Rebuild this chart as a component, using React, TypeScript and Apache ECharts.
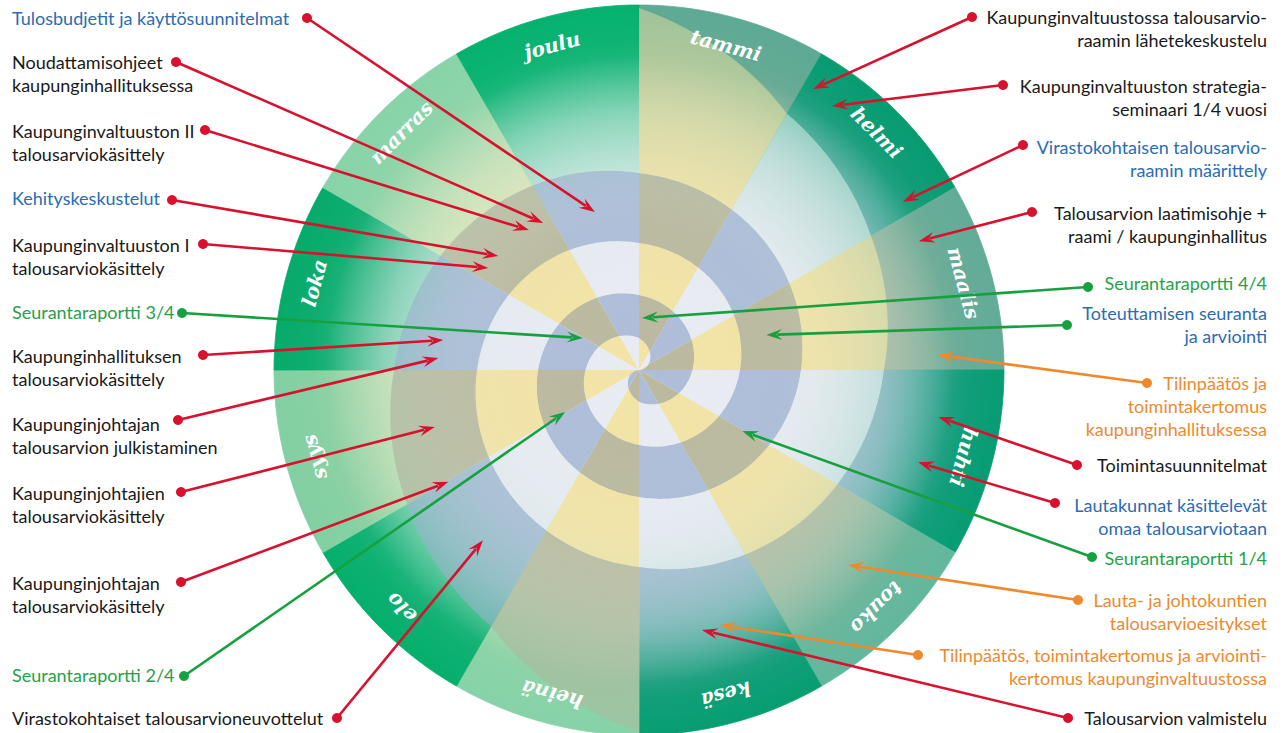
import React, { useEffect, useRef } from "react";
import * as echarts from "echarts";

// ---------- data ----------
const months = ["tammi", "helmi", "maalis", "huhti", "touko", "kesä", "heinä", "elo", "syys", "loka", "marras", "joulu"];
const monthColors = ["#5aa994", "#009a6c", "#5fab98", "#009b6f", "#5fb79d", "#009c6d", "#84d2a9", "#00ad69", "#80cfa3", "#00a967", "#86d3aa", "#00b06b"];

// spiral band boundary: radius against accumulated counter-clockwise turn (deg)
const spiralTurn = [-90, 0, 180, 360, 540, 630, 660, 690, 720];
const spiralRadius = [0, 32, 75, 127, 197, 245, 268, 296, 362];
const spiralEnd = 720;

// left annotations
const leftTexts = [
  ["Tulosbudjetit ja käyttösuunnitelmat"],
  ["Noudattamisohjeet", "kaupunginhallituksessa"],
  ["Kaupunginvaltuuston II", "talousarviokäsittely"],
  ["Kehityskeskustelut"],
  ["Kaupunginvaltuuston I", "talousarviokäsittely"],
  ["Seurantaraportti 3/4"],
  ["Kaupunginhallituksen", "talousarviokäsittely"],
  ["Kaupunginjohtajan", "talousarvion julkistaminen"],
  ["Kaupunginjohtajien", "talousarviokäsittely"],
  ["Kaupunginjohtajan", "talousarviokäsittely"],
  ["Seurantaraportti 2/4"],
  ["Virastokohtaiset talousarvioneuvottelut"],
];
const leftTextKind = ["blue", "black", "black", "blue", "black", "green", "black", "black", "black", "black", "green", "black"];
const leftArrowKind = ["red", "red", "red", "red", "red", "green", "red", "red", "red", "red", "green", "red"];
const leftTargetAngle = [344.4, 326.9, 321.8, 309.0, 304.1, 299.7, 278.7, 273.4, 254.4, 239.6, 240.4, 222.5];
const leftTargetRadius = [164, 175.6, 178, 181, 182, 64.5, 198, 201, 212, 221, 85, 231];

// right annotations
const rightTexts = [
  ["Kaupunginvaltuustossa talousarvio-", "raamin lähetekeskustelu"],
  ["Kaupunginvaltuuston strategia-", "seminaari 1/4 vuosi"],
  ["Virastokohtaisen talousarvio-", "raamin määrittely"],
  ["Talousarvion laatimisohje +", "raami / kaupunginhallitus"],
  ["Seurantaraportti 4/4"],
  ["Toteuttamisen seuranta", "ja arviointi"],
  ["Tilinpäätös ja", "toimintakertomus", "kaupunginhallituksessa"],
  ["Toimintasuunnitelmat"],
  ["Lautakunnat käsittelevät", "omaa talousarviotaan"],
  ["Seurantaraportti 1/4"],
  ["Lauta- ja johtokuntien", "talousarvioesitykset"],
  ["Tilinpäätös, toimintakertomus ja arviointi-", "kertomus kaupunginvaltuustossa"],
  ["Talousarvion valmistelu"],
];
const rightTextKind = ["black", "black", "blue", "black", "green", "blue", "orange", "black", "blue", "green", "orange", "orange", "black"];
const rightArrowKind = ["red", "red", "red", "red", "green", "green", "orange", "red", "red", "green", "orange", "orange", "red"];
const rightTargetAngle = [31.8, 36.2, 57.5, 65.3, 3.3, 74.6, 87.1, 98.9, 108.3, 120.6, 133.0, 162.4, 166.4];
const rightTargetRadius = [330.5, 327, 313, 308, 52, 132, 299, 303, 294, 120, 286, 267.6, 267.5];

// ---------- layout & style ----------
const CX = 639;
const CY = 370;
const R = 365;
const MONTH_LABEL_R = 336;
const LINE_H = 23;
const leftTextY = [18, 62, 131, 198, 245, 312, 356, 424, 493, 583, 675, 718];
const leftDot = [[307, 18], [176, 62], [205, 130], [172, 200], [203, 244], [182, 313], [203, 355], [178, 420], [181, 492], [181, 582], [184, 676], [337, 718]];
const rightTextY = [17, 86, 147, 213, 283, 313, 383, 465, 505, 558, 600, 655, 718];
const rightDot = [[972, 17], [1003, 85], [1023, 145], [1032, 212], [1088, 287], [1067, 325], [1147, 383], [1077, 465], [1055, 503], [1092, 557], [1078, 600], [918, 655], [1068, 718]];

const textColor: Record<string, string> = { black: "#1a1a1a", blue: "#2b6cb3", green: "#27a14a", orange: "#ec8a30" };
const arrowColor: Record<string, string> = { red: "#d7112e", green: "#17a03f", orange: "#ee8a2c" };
const darkColors = ["#b8b69b", "#acbad8"]; // gray, blue
const lightColors = ["#f3e2a2", "#e9ebf3"]; // yellow, white
const FONT = "Lato, 'Liberation Sans', sans-serif";

function spiralR(psi: number): number {
  if (psi <= spiralTurn[0]) return spiralRadius[0];
  for (let i = 1; i < spiralTurn.length; i++) {
    if (psi <= spiralTurn[i] + 1e-6) {
      const t = (psi - spiralTurn[i - 1]) / (spiralTurn[i] - spiralTurn[i - 1]);
      return spiralRadius[i - 1] + t * (spiralRadius[i] - spiralRadius[i - 1]);
    }
  }
  return R;
}

function rgba(hex: string, a: number) {
  const n = parseInt(hex.slice(1), 16);
  return `rgba(${(n >> 16) & 255},${(n >> 8) & 255},${n & 255},${a})`;
}

function mix(hexA: string, hexB: string, t: number) {
  const a = parseInt(hexA.slice(1), 16);
  const b = parseInt(hexB.slice(1), 16);
  const ch = (s: number) => Math.round(((a >> s) & 255) * (1 - t) + ((b >> s) & 255) * t);
  return `rgb(${ch(16)},${ch(8)},${ch(0)})`;
}

function buildOption() {
  const monthData = months.map((_, i) => [200, 30 * i + 15, i]);
  const labelData = months.map((_, i) => [MONTH_LABEL_R, 30 * i + 15, i]);

  // [r, angle, wedge, winding, open(1 = runs out to the rim)]
  const bandData: number[][] = [];
  for (let w = 0; w < 12; w++) {
    for (let m = -4; m <= 4; m++) {
      const phiMax = 360 - 30 * w;
      if (phiMax + 180 * m > spiralEnd + 0.01) continue;
      if (spiralR(phiMax + 180 * (m + 1)) <= 0) continue;
      const open = phiMax + 180 * (m + 1) > spiralEnd + 0.01 ? 1 : 0;
      if (open && spiralR(phiMax + 180 * m) >= R - 1) continue;
      bandData.push([100, 30 * w + 15, w, m, open]);
    }
  }

  const annData: number[][] = [];
  leftTexts.forEach((_, i) => annData.push([leftTargetRadius[i], leftTargetAngle[i], 0, i]));
  rightTexts.forEach((_, i) => annData.push([rightTargetRadius[i], rightTargetAngle[i], 1, i]));

  const radiusPx = (api: any) => {
    const c = api.coord([0, 0]);
    const e = api.coord([R, 0]);
    return { c, rad: Math.hypot(e[0] - c[0], e[1] - c[1]) };
  };

  return {
    animation: false,
    polar: { center: [CX, CY], radius: [0, R] },
    angleAxis: { type: "value", min: 0, max: 360, startAngle: 90, clockwise: true, show: false },
    radiusAxis: { type: "value", min: 0, max: R, show: false },
    series: [
      {
        type: "custom",
        coordinateSystem: "polar",
        silent: true,
        z: 1,
        data: monthData,
        renderItem: (params: any, api: any) => {
          const i = api.value(2);
          const { c, rad } = radiusPx(api);
          const pts: number[][] = [c];
          for (let k = 0; k <= 24; k++) pts.push(api.coord([R, 30 * i + (30 * k) / 24]));
          const col = monthColors[i];
          const grad = new echarts.graphic.RadialGradient(c[0], c[1], rad, [
            { offset: 0, color: "#f2f6f2" },
            { offset: 0.48, color: mix("#eef5f0", col, 0.2) },
            { offset: 0.7, color: mix("#eef5f0", col, 0.6) },
            { offset: 0.86, color: col },
            { offset: 1, color: col },
          ], true);
          return { type: "polygon", shape: { points: pts }, style: { fill: grad, stroke: grad, lineWidth: 0.8 } };
        },
      },
      {
        type: "custom",
        coordinateSystem: "polar",
        silent: true,
        z: 2,
        data: bandData,
        renderItem: (params: any, api: any) => {
          const w = api.value(2);
          const m = api.value(3);
          const open = api.value(4);
          const N = 16;
          const outer: number[][] = [];
          const inner: number[][] = [];
          for (let k = 0; k <= N; k++) {
            const th = 30 * w + (30 * k) / N;
            const phi = 360 - th;
            outer.push(api.coord([spiralR(phi + 180 * (m + 1)), th]));
            inner.push(api.coord([spiralR(phi + 180 * m), th]));
          }
          const pts = outer.concat(inner.reverse());
          const dark = Math.abs(m) % 2 === 0;
          const base = dark ? darkColors[w % 2] : lightColors[w % 2];
          const { c, rad } = radiusPx(api);
          const k0 = dark ? 1 : 0.6;
          const stops = open
            ? [
                { offset: 0, color: rgba(base, 0.85 * k0) },
                { offset: 0.54, color: rgba(base, 0.78 * k0) },
                { offset: 0.68, color: rgba(base, 0.55 * k0) },
                { offset: 0.8, color: rgba(base, 0.3 * k0) },
                { offset: 0.9, color: rgba(base, 0.1 * k0) },
                { offset: 1, color: rgba(base, 0.04 * k0) },
              ]
            : [
                { offset: 0, color: rgba(base, 0.96) },
                { offset: 0.4, color: rgba(base, 0.9) },
                { offset: 0.62, color: rgba(base, 0.74) },
                { offset: 0.85, color: rgba(base, 0.55) },
                { offset: 1, color: rgba(base, 0.45) },
              ];
          const grad = new echarts.graphic.RadialGradient(c[0], c[1], rad, stops, true);
          return { type: "polygon", shape: { points: pts }, style: { fill: grad } };
        },
      },
      {
        type: "custom",
        coordinateSystem: "polar",
        silent: true,
        z: 3,
        data: labelData,
        renderItem: (params: any, api: any) => {
          const i = api.value(2);
          const th = api.value(1);
          const p = api.coord([api.value(0), th]);
          return {
            type: "text",
            x: p[0],
            y: p[1],
            rotation: (-th * Math.PI) / 180,
            style: {
              text: months[i],
              fill: "#ffffff",
              fontSize: 20,
              fontWeight: "bold",
              fontStyle: "italic",
              fontFamily: "'DejaVu Serif', serif",
              align: "center",
              verticalAlign: "middle",
            },
          };
        },
      },
      {
        type: "custom",
        coordinateSystem: "polar",
        silent: true,
        z: 4,
        data: annData,
        renderItem: (params: any, api: any) => {
          const side = api.value(2);
          const i = api.value(3);
          const tip = api.coord([api.value(0), api.value(1)]);
          const dot = side === 0 ? leftDot[i] : rightDot[i];
          const lines = side === 0 ? leftTexts[i] : rightTexts[i];
          const tk = side === 0 ? leftTextKind[i] : rightTextKind[i];
          const ak = side === 0 ? leftArrowKind[i] : rightArrowKind[i];
          const ty = side === 0 ? leftTextY[i] : rightTextY[i];
          const col = arrowColor[ak];
          const dx = tip[0] - dot[0];
          const dy = tip[1] - dot[1];
          const len = Math.hypot(dx, dy);
          const ux = dx / len;
          const uy = dy / len;
          const px = -uy;
          const py = ux;
          const L = 16;
          const HW = 5.5;
          const notch = 10;
          const head = [
            [tip[0], tip[1]],
            [tip[0] - ux * L + px * HW, tip[1] - uy * L + py * HW],
            [tip[0] - ux * notch, tip[1] - uy * notch],
            [tip[0] - ux * L - px * HW, tip[1] - uy * L - py * HW],
          ];
          const children: any[] = [
            {
              type: "line",
              shape: { x1: dot[0], y1: dot[1], x2: tip[0] - ux * (notch + 1), y2: tip[1] - uy * (notch + 1) },
              style: { stroke: col, lineWidth: 2.6 },
            },
            { type: "polygon", shape: { points: head }, style: { fill: col } },
            { type: "circle", shape: { cx: dot[0], cy: dot[1], r: 5 }, style: { fill: col } },
          ];
          lines.forEach((t, j) => {
            children.push({
              type: "text",
              x: side === 0 ? 12 : 1267,
              y: ty + j * LINE_H,
              style: {
                text: t,
                fill: textColor[tk],
                fontSize: 18,
                fontFamily: FONT,
                align: side === 0 ? "left" : "right",
                verticalAlign: "middle",
              },
            });
          });
          return { type: "group", children };
        },
      },
    ],
  };
}

export default function App() {
  const ref = useRef<HTMLDivElement>(null);
  useEffect(() => {
    if (!ref.current) return;
    const chart = echarts.init(ref.current, undefined, { renderer: "svg" });
    chart.setOption(buildOption() as any);
    return () => chart.dispose();
  }, []);
  return (
    <div
      ref={ref}
      style={{ position: "absolute", left: 0, top: 0, width: 1285, height: 733, background: "#ffffff" }}
    />
  );
}
